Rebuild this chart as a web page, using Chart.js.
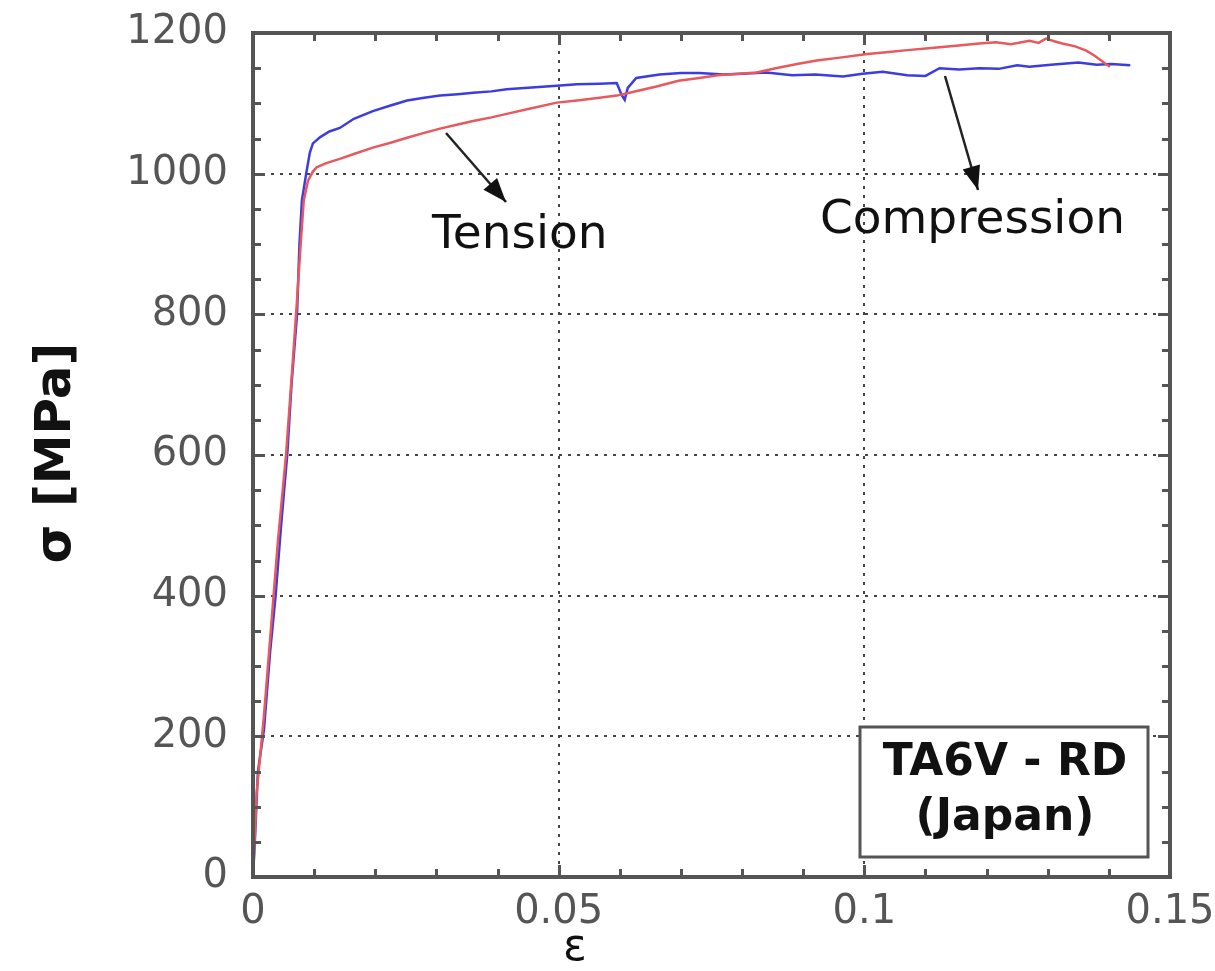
<!DOCTYPE html>
<html>
<head>
<meta charset="utf-8">
<script src="https://cdn.jsdelivr.net/npm/chart.js@4/dist/chart.umd.min.js"></script>
<style>
  html, body { margin: 0; padding: 0; background: #fff; }
  #wrap { width: 1215px; height: 971px; }
</style>
</head>
<body>
<div id="wrap"><canvas id="chart" width="1215" height="971"></canvas></div>
<script>
// Tension curve (red)
const tensionStrain = [0, 0.0006, 0.0018, 0.003, 0.0041, 0.0054, 0.0064, 0.0072, 0.0078, 0.0083, 0.009, 0.0098, 0.0104,
  0.012, 0.0142, 0.0165, 0.0196, 0.0225, 0.0252, 0.028, 0.0306, 0.0335, 0.036, 0.039, 0.0415, 0.045, 0.0497, 0.053,
  0.0567, 0.0595, 0.063, 0.066, 0.0696, 0.073, 0.076, 0.0795, 0.0824, 0.0855, 0.089, 0.0922, 0.096, 0.1005, 0.104,
  0.1075, 0.1114, 0.115, 0.1188, 0.1215, 0.124, 0.127, 0.1285, 0.1297, 0.1312, 0.1324, 0.1345, 0.1363, 0.1378, 0.1395, 0.1402];
const tensionStress = [0, 120, 230, 360, 480, 600, 720, 820, 900, 962, 990, 1003, 1009,
  1015, 1021, 1028, 1037, 1044, 1051, 1058, 1064, 1070, 1075, 1080, 1085, 1092, 1101, 1104,
  1108, 1111, 1118, 1124, 1132, 1136, 1140, 1142, 1144, 1150, 1156, 1161, 1165, 1170, 1173,
  1176, 1179, 1182, 1185, 1187, 1184, 1189, 1186, 1192, 1188, 1185, 1181, 1175, 1167, 1156, 1152];

// Compression curve (blue)
const compStrain = [0, 0.0003, 0.0008, 0.0018, 0.0028, 0.0037, 0.0046, 0.0056, 0.0063, 0.0072, 0.0076, 0.008, 0.0087, 0.0093, 0.0098,
  0.011, 0.0125, 0.0142, 0.0165, 0.0196, 0.0225, 0.0252, 0.028, 0.0306, 0.0335, 0.036, 0.039, 0.0415, 0.045, 0.0497, 0.053,
  0.0567, 0.0595, 0.0603, 0.0608, 0.0613, 0.0627, 0.0665, 0.07, 0.073, 0.077, 0.08, 0.084, 0.0882, 0.092, 0.0965, 0.0997,
  0.103, 0.107, 0.11, 0.1123, 0.1155, 0.1188, 0.122, 0.125, 0.127, 0.1305, 0.135, 0.138, 0.1404, 0.1435];
const compStress = [0, 50, 150, 210, 320, 400, 500, 600, 700, 800, 900, 962, 1000, 1030, 1043,
  1052, 1060, 1065, 1078, 1089, 1097, 1104, 1108, 1111, 1113, 1115, 1117, 1120, 1122, 1125, 1127,
  1128, 1129, 1112, 1105, 1122, 1136, 1141, 1143, 1143, 1141, 1142, 1144, 1140, 1141, 1138, 1142,
  1145, 1140, 1139, 1150, 1148, 1150, 1149, 1154, 1152, 1155, 1158, 1155, 1156, 1154];

const xTicks = [0, 0.05, 0.1, 0.15];
const yTicks = [0, 200, 400, 600, 800, 1000, 1200];
const xMinorStep = 0.01;
const yMinorStep = 50;

const toPoints = (xs, ys) => xs.map((x, i) => ({ x: x, y: ys[i] }));

// keep the plot box where the reference has it, whatever the edge labels need
const noEdgePadding = s => {
  s.paddingLeft = 0; s.paddingRight = 0; s.paddingTop = 0; s.paddingBottom = 0;
};

// frame, inward ticks, arrows, labels, info box
const decorPlugin = {
  id: 'decor',
  afterDatasetsDraw(chart) {
    const ctx = chart.ctx;
    const a = chart.chartArea;
    const xs = chart.scales.x, ys = chart.scales.y;
    ctx.save();
    ctx.strokeStyle = '#555';
    ctx.lineWidth = 3;
    for (let v = 0; v <= 0.15 + 1e-9; v += xMinorStep) {
      const px = Math.round(xs.getPixelForValue(v)) + 0.5;
      const len = Math.abs(v / 0.05 - Math.round(v / 0.05)) < 1e-6 ? 12 : 8;
      ctx.beginPath();
      ctx.moveTo(px, a.bottom); ctx.lineTo(px, a.bottom - len);
      ctx.moveTo(px, a.top); ctx.lineTo(px, a.top + len);
      ctx.stroke();
    }
    for (let v = 0; v <= 1200; v += yMinorStep) {
      const py = Math.round(ys.getPixelForValue(v)) + 0.5;
      const len = v % 200 === 0 ? 12 : 8;
      ctx.beginPath();
      ctx.moveTo(a.left, py); ctx.lineTo(a.left + len, py);
      ctx.moveTo(a.right, py); ctx.lineTo(a.right - len, py);
      ctx.stroke();
    }
    ctx.lineWidth = 4;
    ctx.strokeRect(a.left, a.top, a.right - a.left, a.bottom - a.top);
    ctx.restore();
  },
  afterDraw(chart) {
    const ctx = chart.ctx;
    ctx.save();
    const arrow = (x1, y1, x2, y2) => {
      ctx.strokeStyle = '#222';
      ctx.fillStyle = '#111';
      ctx.lineWidth = 2.5;
      ctx.beginPath(); ctx.moveTo(x1, y1); ctx.lineTo(x2, y2); ctx.stroke();
      const ang = Math.atan2(y2 - y1, x2 - x1);
      const L = 24, W = 9;
      ctx.beginPath();
      ctx.moveTo(x2, y2);
      ctx.lineTo(x2 - L * Math.cos(ang) + W * Math.sin(ang), y2 - L * Math.sin(ang) - W * Math.cos(ang));
      ctx.lineTo(x2 - L * Math.cos(ang) - W * Math.sin(ang), y2 - L * Math.sin(ang) + W * Math.cos(ang));
      ctx.closePath(); ctx.fill();
    };
    arrow(446, 133, 506, 202);
    arrow(945, 76, 978, 190);

    ctx.fillStyle = '#111';
    ctx.font = '47px "DejaVu Sans"';
    ctx.textBaseline = 'alphabetic';
    ctx.textAlign = 'left';
    ctx.fillText('Tension', 432, 248);
    ctx.fillText('Compression', 820, 233);

    // info box
    ctx.fillStyle = '#fff';
    ctx.fillRect(860, 727, 288, 130);
    ctx.strokeStyle = '#555';
    ctx.lineWidth = 3;
    ctx.strokeRect(860, 727, 288, 130);
    ctx.fillStyle = '#111';
    ctx.font = 'bold 44px "DejaVu Sans"';
    ctx.textAlign = 'center';
    ctx.fillText('TA6V - RD', 1005, 775);
    ctx.fillText('(Japan)', 1005, 830);

    // axis titles
    ctx.font = '44px "DejaVu Sans"';
    ctx.fillText('\u03b5', 575, 960);

    ctx.translate(57, 453);
    ctx.rotate(-Math.PI / 2);
    ctx.font = 'bold 50px "DejaVu Sans"';
    ctx.textBaseline = 'middle';
    ctx.fillText('\u03c3 [MPa]', 0, 0);
    ctx.restore();
  }
};

const ctx = document.getElementById('chart').getContext('2d');
new Chart(ctx, {
  type: 'scatter',
  data: {
    datasets: [
      {
        label: 'Tension',
        data: toPoints(tensionStrain, tensionStress),
        showLine: true,
        borderColor: '#e8585c',
        borderWidth: 2.5,
        pointRadius: 0,
        tension: 0
      },
      {
        label: 'Compression',
        data: toPoints(compStrain, compStress),
        showLine: true,
        borderColor: '#3c3ce0',
        borderWidth: 2.5,
        pointRadius: 0,
        tension: 0
      }
    ]
  },
  options: {
    responsive: false,
    animation: false,
    devicePixelRatio: 1,
    layout: { padding: { left: 0, top: 33, right: 45, bottom: 0 } },
    plugins: { legend: { display: false }, tooltip: { enabled: false } },
    scales: {
      x: {
        type: 'linear',
        min: 0, max: 0.15,
        afterFit: s => { s.height = 94; noEdgePadding(s); },
        afterBuildTicks: s => { s.ticks = xTicks.map(v => ({ value: v })); },
        ticks: {
          color: '#555',
          font: { family: 'DejaVu Sans', size: 40 },
          padding: 12,
          maxRotation: 0,
          callback: v => String(+v.toFixed(2))
        },
        grid: { color: '#444', lineWidth: 2, drawTicks: false },
        border: { display: false, dash: [3, 6] }
      },
      y: {
        type: 'linear',
        min: 0, max: 1200,
        afterFit: s => { s.width = 253; noEdgePadding(s); },
        afterBuildTicks: s => { s.ticks = yTicks.map(v => ({ value: v })); },
        ticks: {
          color: '#555',
          font: { family: 'DejaVu Sans', size: 40 },
          padding: 25,
          callback: v => String(v)
        },
        grid: { color: '#444', lineWidth: 2, drawTicks: false },
        border: { display: false, dash: [3, 6] }
      }
    }
  },
  plugins: [decorPlugin]
});
</script>
</body>
</html>
